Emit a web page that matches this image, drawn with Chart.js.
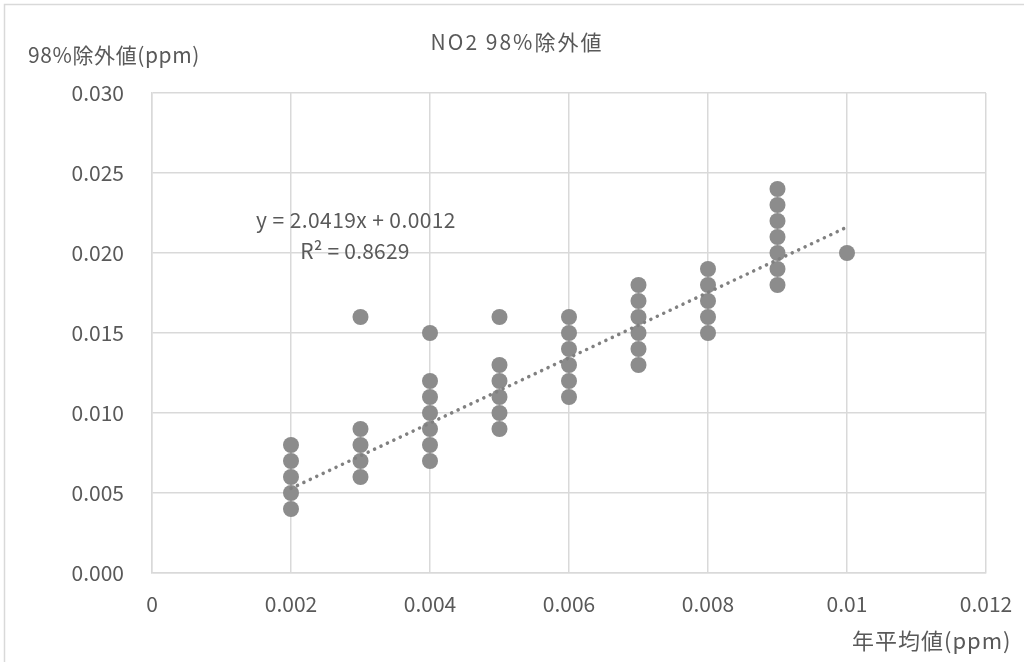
<!DOCTYPE html>
<html>
<head>
<meta charset="utf-8">
<script src="https://cdn.jsdelivr.net/npm/chart.js@4.4.1/dist/chart.umd.min.js"></script>
<style>
  html, body { margin: 0; padding: 0; background: #ffffff; }
  #wrap { width: 1024px; height: 662px; position: relative; }
</style>
</head>
<body>
<div id="wrap"><canvas id="c" width="1024" height="662"></canvas></div>
<script>
// Annual mean (x) vs 98th-percentile daily value (y) of NO2, ppm
const annualMean = [
  0.002, 0.002, 0.002, 0.002, 0.002,
  0.003, 0.003, 0.003, 0.003, 0.003,
  0.004, 0.004, 0.004, 0.004, 0.004, 0.004, 0.004,
  0.005, 0.005, 0.005, 0.005, 0.005, 0.005,
  0.006, 0.006, 0.006, 0.006, 0.006, 0.006,
  0.007, 0.007, 0.007, 0.007, 0.007, 0.007,
  0.008, 0.008, 0.008, 0.008, 0.008,
  0.009, 0.009, 0.009, 0.009, 0.009, 0.009, 0.009,
  0.010
];
const value98 = [
  0.004, 0.005, 0.006, 0.007, 0.008,
  0.006, 0.007, 0.008, 0.009, 0.016,
  0.007, 0.008, 0.009, 0.010, 0.011, 0.012, 0.015,
  0.009, 0.010, 0.011, 0.012, 0.013, 0.016,
  0.011, 0.012, 0.013, 0.014, 0.015, 0.016,
  0.013, 0.014, 0.015, 0.016, 0.017, 0.018,
  0.015, 0.016, 0.017, 0.018, 0.019,
  0.018, 0.019, 0.020, 0.021, 0.022, 0.023, 0.024,
  0.020
];

// Linear trend line
const trendSlope = 2.0419;
const trendIntercept = 0.0012;
const trendR2 = 0.8629;
const trendRange = [0.002, 0.010];

const xTicks = [0, 0.002, 0.004, 0.006, 0.008, 0.01, 0.012];
const yTicks = [0, 0.005, 0.010, 0.015, 0.020, 0.025, 0.030];

const chartTitle = 'NO2 98%除外値';
const yTitle = '98%除外値(ppm)';
const xTitle = '年平均値(ppm)';

const FONT = '"Noto Sans CJK JP", "Noto Sans", sans-serif';
const TEXT = '#595959';
const GRID = '#d9d9d9';

const scatterPts = annualMean.map((x, i) => ({ x: x, y: value98[i] }));
const trendPts = trendRange.map(x => ({ x: x, y: trendSlope * x + trendIntercept }));

function drawText(ctx, str, x, y, size, spacing, align) {
  ctx.font = size + 'px ' + FONT;
  ctx.letterSpacing = spacing + 'px';
  ctx.textAlign = align;
  ctx.fillText(str, x, y);
  ctx.letterSpacing = '0px';
}

const decorations = {
  id: 'decorations',
  beforeDraw(chart) {
    const ctx = chart.ctx;
    ctx.save();
    ctx.fillStyle = '#ffffff';
    ctx.fillRect(0, 0, chart.width, chart.height);
    ctx.strokeStyle = GRID;
    ctx.lineWidth = 1.5;
    ctx.strokeRect(4.5, 4.5, chart.width + 20, chart.height + 20);
    ctx.restore();
  },
  afterDraw(chart) {
    const ctx = chart.ctx;
    ctx.save();
    ctx.fillStyle = TEXT;
    ctx.textBaseline = 'middle';
    drawText(ctx, chartTitle, 517, 42, 21, 2, 'center');
    drawText(ctx, yTitle, 28, 55, 21, 0.6, 'left');
    drawText(ctx, xTitle, 852, 641, 22, 1, 'left');
    drawText(ctx, 'y = ' + trendSlope.toFixed(4) + 'x + ' + trendIntercept.toFixed(4), 356, 220, 21, 0.4, 'center');
    drawText(ctx, 'R² = ' + trendR2.toFixed(4), 355, 251, 21, 0.2, 'center');
    ctx.restore();
  }
};

new Chart(document.getElementById('c'), {
  type: 'scatter',
  data: {
    datasets: [
      {
        type: 'scatter',
        data: scatterPts,
        backgroundColor: '#8c8c8c',
        borderColor: '#8c8c8c',
        pointRadius: 8,
        pointHoverRadius: 8,
        borderWidth: 0,
        order: 2
      },
      {
        type: 'line',
        data: trendPts,
        borderColor: '#808080',
        borderWidth: 3.5,
        borderDash: [0.1, 7],
        borderCapStyle: 'round',
        pointRadius: 0,
        fill: false,
        showLine: true,
        order: 1
      }
    ]
  },
  options: {
    responsive: false,
    animation: false,
    events: [],
    layout: { padding: { left: 0, top: 93, right: 38, bottom: 0 } },
    plugins: {
      legend: { display: false },
      title: { display: false },
      tooltip: { enabled: false }
    },
    scales: {
      x: {
        type: 'linear',
        min: 0,
        max: 0.012,
        afterBuildTicks(axis) { axis.ticks = xTicks.map(v => ({ value: v })); },
        afterFit(axis) {
          axis.height = 89;
          axis.paddingLeft = 0;
          axis.paddingRight = 0;
        },
        grid: { color: GRID, lineWidth: 1.5, drawTicks: false },
        border: { color: GRID, width: 1.5 },
        ticks: {
          color: TEXT,
          font: { family: FONT, size: 21 },
          padding: 18,
          maxRotation: 0,
          callback: v => String(parseFloat(v.toFixed(3)))
        }
      },
      y: {
        type: 'linear',
        min: 0,
        max: 0.030,
        afterBuildTicks(axis) { axis.ticks = yTicks.map(v => ({ value: v })); },
        afterFit(axis) {
          axis.width = 152;
          axis.paddingTop = 0;
          axis.paddingBottom = 0;
        },
        grid: { color: GRID, lineWidth: 1.5, drawTicks: false },
        border: { color: GRID, width: 1.5 },
        ticks: {
          color: TEXT,
          font: { family: FONT, size: 21 },
          padding: 28,
          callback: v => v.toFixed(3)
        }
      }
    }
  },
  plugins: [decorations]
});
</script>
</body>
</html>
